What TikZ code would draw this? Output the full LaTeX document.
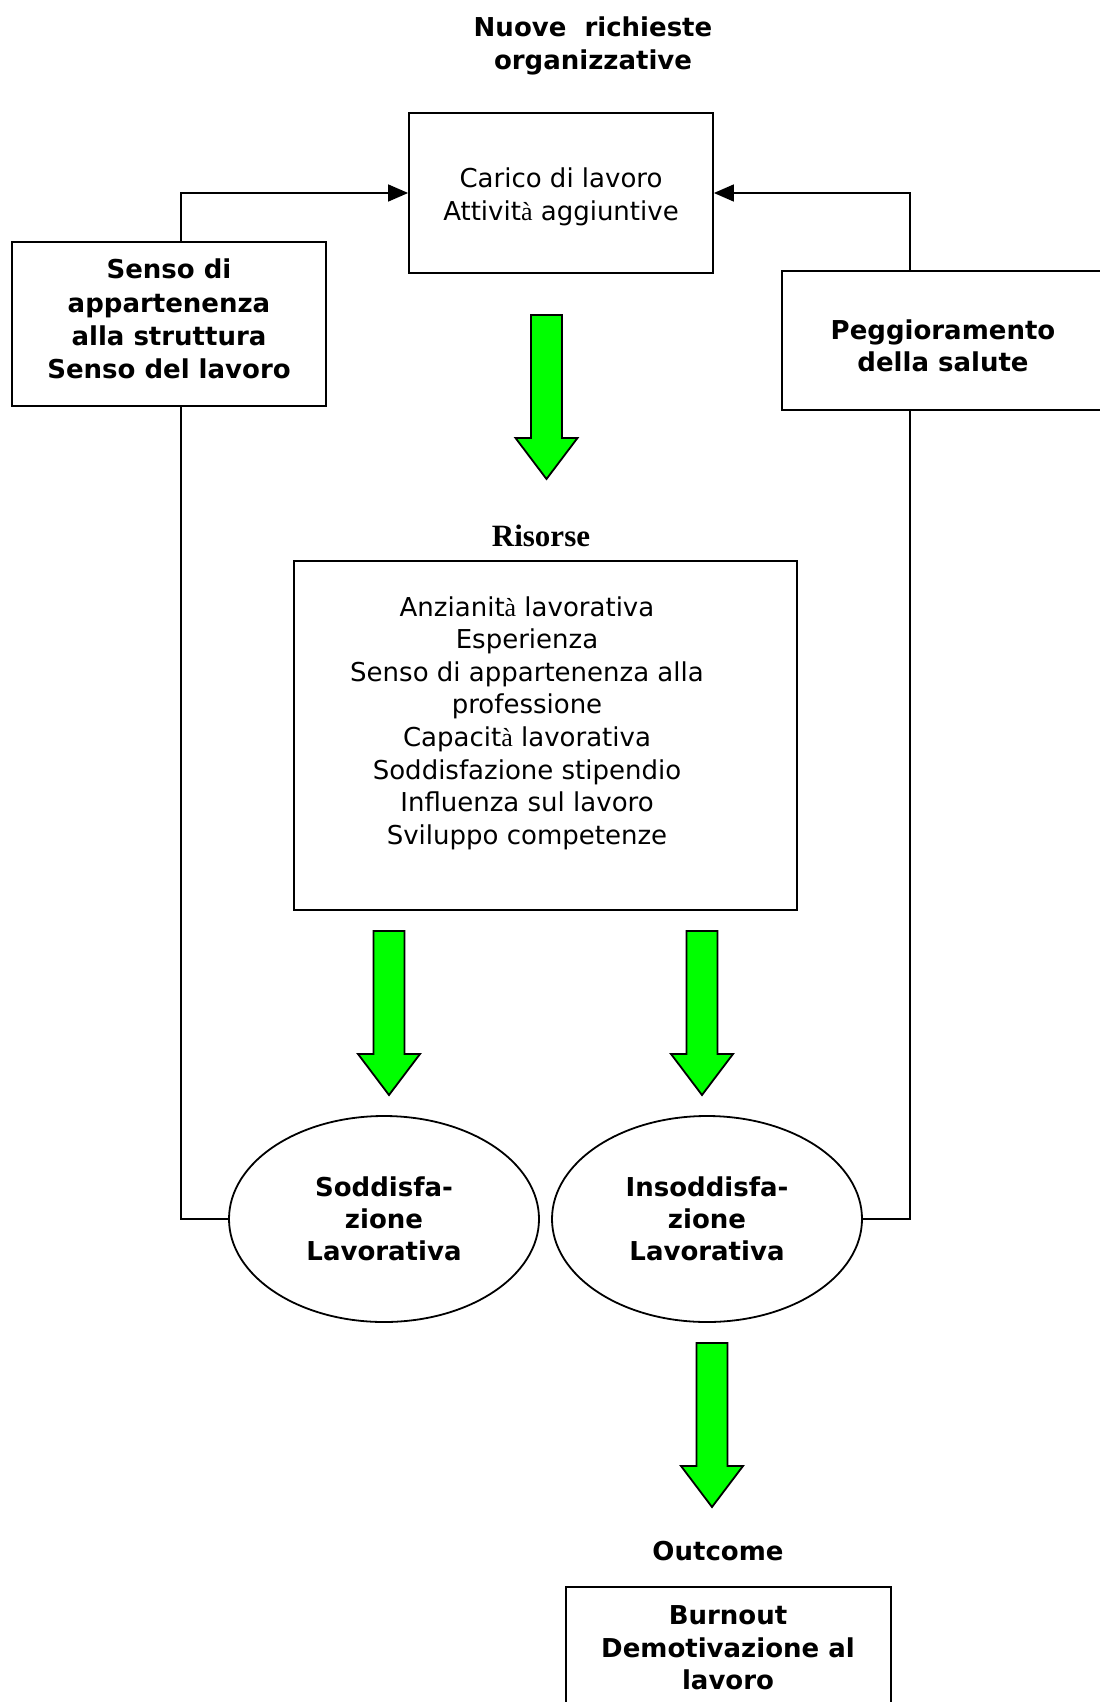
\documentclass[tikz,border=0pt]{standalone}
\usepackage{fontspec}
\setmainfont{DejaVu Sans}
\newfontfamily\tms{Liberation Serif}
\usetikzlibrary{arrows.meta,shapes.geometric,fit}
\newcommand\greenarrow[4]{% x, top, head base, tip
  \filldraw[garrowst] ({#1-15.5},#2) -- ({#1+15.5},#2) -- ({#1+15.5},#3) -- ({#1+31},#3)
    -- (#1,#4) -- ({#1-31},#3) -- ({#1-15.5},#3) -- cycle;}
\begin{document}
\begin{tikzpicture}[x=0.5pt,y=-0.5pt,
  every node/.style={font=\fontsize{13pt}{16.3pt}\selectfont},
  box/.style={draw, line width=0.9pt, inner sep=0pt, align=center},
  txt/.style={align=center, inner sep=0pt},
  btxt/.style={txt, font=\fontsize{13pt}{16.3pt}\selectfont\bfseries},
  conn/.style={line width=0.75pt},
  arr/.style={conn, -{Triangle[length=10pt,width=8.5pt]}},
  ell/.style={ellipse, draw, line width=0.9pt, minimum width=155pt, minimum height=103pt,
    inner sep=0pt, align=center, font=\fontsize{13pt}{16pt}\selectfont\bfseries},
  garrowst/.style={draw=black, fill=green, line width=0.9pt, line join=miter}]
\useasboundingbox[fill=white] (0,0) rectangle (1099,1702);

% title
\node[btxt] (title) at (593,46) {Nuove\ \ richieste\\organizzative};

% top box
\node[box, fit={(409,113) (713,273)}] (tb) {};
\node[txt] (tbt) at (561,197) {Carico di lavoro\\Attivit{\tms à} aggiuntive};

% left box
\node[box, fit={(12,242) (326,406)}] (lb) {};
\node[btxt, font=\fontsize{13pt}{16.6pt}\selectfont\bfseries] (lbt) at (169,319) {Senso di\\appartenenza\\alla struttura\\Senso del lavoro};

% right box
\node[box, fit={(782,271) (1102,410)}] (rb) {};
\node[btxt] (rbt) at (943,346) {Peggioramento\\della salute};

% resources
\node[txt, font=\fontsize{15.5pt}{18pt}\selectfont\tms\bfseries] (rest) at (541,536) {Risorse};
\node[box, fit={(294,561) (797,910)}] (res) {};
\node[txt] (rest2) at (527,723) {Anzianit{\tms à} lavorativa\\Esperienza\\Senso di appartenenza alla\\professione\\Capacit{\tms à} lavorativa\\Soddisfazione stipendio\\Influenza sul lavoro\\Sviluppo competenze};

% ellipses
\node[ell] (e1) at (384,1219) {Soddisfa-\\zione\\Lavorativa};
\node[ell] (e2) at (707,1219) {Insoddisfa-\\zione\\Lavorativa};

% outcome
\node[btxt] (outl) at (718,1551) {Outcome};
\node[box, fit={(566,1587) (891,1720)}] (ob) {};
\node[btxt] (obt) at (728,1648) {Burnout\\Demotivazione al\\lavoro};

% connectors
\coordinate (lx) at (181,0);
\coordinate (rx) at (910,0);
\draw[arr] (lx |- lb.north) |- (tb.west);
\draw[arr] (rx |- rb.north) |- (tb.east);
\draw[conn] (lx |- lb.south) |- (e1.west);
\draw[conn] (rx |- rb.south) |- (e2.east);

% green block arrows
\greenarrow{546.5}{315}{438}{479}
\greenarrow{389}{931}{1054}{1095}
\greenarrow{702}{931}{1054}{1095}
\greenarrow{712}{1343}{1466}{1507}
\end{tikzpicture}
\end{document}
